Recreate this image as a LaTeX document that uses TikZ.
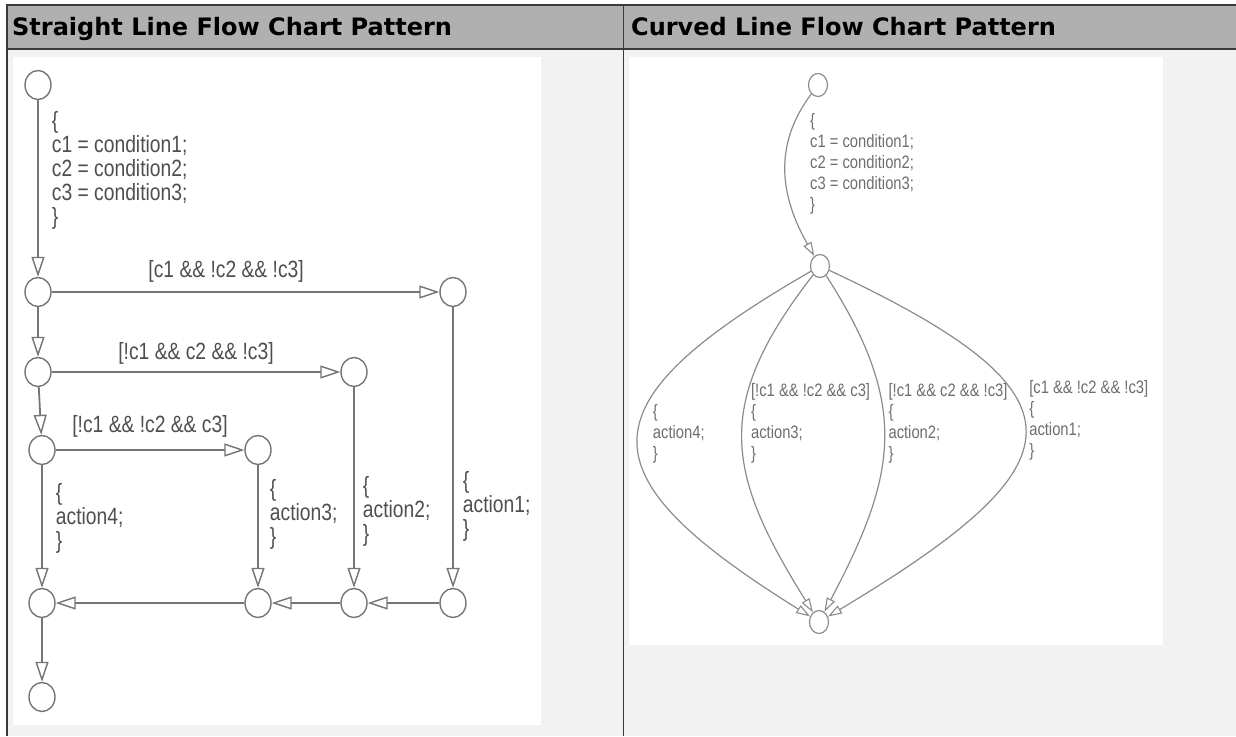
\documentclass[tikz,border=0pt]{standalone}
\usepackage{fontspec}
\usepackage{tikz}
\usetikzlibrary{positioning,arrows.meta,shapes.geometric}
\newfontfamily\headfont{DejaVu Sans}
\newfontfamily\chartfont[FakeStretch=0.82]{Liberation Sans}
\definecolor{headgray}{HTML}{B0B0B0}
\definecolor{bodygray}{HTML}{F2F2F2}
\definecolor{rulegray}{HTML}{3A3A3A}
\definecolor{wire}{HTML}{757575}
\definecolor{wirelight}{HTML}{8C8C8C}
\definecolor{codeink}{HTML}{4F4F4F}
\definecolor{codelight}{HTML}{6E6E6E}
\tikzset{
  rule/.style={draw=rulegray,line width=1.6pt},
  headtext/.style={font=\headfont\bfseries\fontsize{24}{28}\selectfont,inner sep=0pt},
  junction/.style={ellipse,draw=wire,line width=1.4pt,fill=white,inner sep=0pt,minimum width=26pt,minimum height=29pt},
  smalljunction/.style={ellipse,draw=wirelight,line width=1.2pt,fill=white,inner sep=0pt,minimum width=19pt,minimum height=23pt},
  flow/.style={draw=wire,line width=1.8pt,-{Triangle[open,length=20pt,width=13pt,line width=1.4pt]}},
  thinflow/.style={draw=wirelight,line width=1.2pt,-{Triangle[open,length=14pt,width=9pt,line width=1.1pt]}},
  code/.style={font=\chartfont\fontsize{23.5}{24}\selectfont,text=codeink,align=left,inner sep=0pt},
  smallcode/.style={font=\chartfont\fontsize{18}{21}\selectfont,text=codelight,align=left,inner sep=0pt}}

\begin{document}
\begin{tikzpicture}[x=1pt,y=-1pt]
  \useasboundingbox (0,0) rectangle (1236,736);
  % table frame
  \fill[white] (0,0) rectangle (1236,736);
  \fill[headgray] (7,5) rectangle (1236,49);
  \fill[bodygray] (7,49) rectangle (1236,736);
  \fill[white] (13,57) rectangle (541,725);
  \fill[white] (629,57) rectangle (1163,645);
  \draw[rule] (7,736) -- (7,5) -- (1236,5);
  \draw[rule] (7,49) -- (1236,49);
  \draw[rule] (623.5,5) -- (623.5,736);
  \node[headtext,anchor=base west] (hleft) at (12,35) {Straight Line Flow Chart Pattern};
  \node[headtext,anchor=base west] (hright) at (631,35) {Curved Line Flow Chart Pattern};

  % straight line pattern
  \node[junction] (s0) at (38,85) {};
  \node[junction] (a1) at (38,292) {};
  \node[junction] (b1) at (453,292) {};
  \node[junction] (a2) at (38,372) {};
  \node[junction] (b2) at (354,372) {};
  \node[junction] (a3) at (42,450) {};
  \node[junction] (b3) at (258,450) {};
  \node[junction] (d1) at (42,603) {};
  \node[junction] (d3) at (258,603) {};
  \node[junction] (d2) at (354,603) {};
  \node[junction] (d4) at (453,603) {};
  \node[junction] (e) at (42,697) {};
  \draw[flow] (s0) -- node[code,right=13pt,pos=0.4]{\{\\c1 = condition1;\\c2 = condition2;\\c3 = condition3;\\\}} (a1);
  \draw[flow] (a1) -- node[code,above=9pt,pos=0.45]{[c1 \&\& !c2 \&\& !c3]} (b1);
  \draw[flow] (a1) -- (a2);
  \draw[flow] (a2) -- node[code,above=7pt]{[!c1 \&\& c2 \&\& !c3]} (b2);
  \draw[flow] (a2) -- (a3);
  \draw[flow] (a3) -- node[code,above=12pt]{[!c1 \&\& !c2 \&\& c3]} (b3);
  \draw[flow] (a3) -- node[code,right=13pt,pos=0.43]{\{\\action4;\\\}} (d1);
  \draw[flow] (b3) -- node[code,right=11pt,pos=0.4]{\{\\action3;\\\}} (d3);
  \draw[flow] (b2) -- node[code,right=8pt,pos=0.62]{\{\\action2;\\\}} (d2);
  \draw[flow] (b1) -- node[code,right=9pt,pos=0.71]{\{\\action1;\\\}} (d4);
  \draw[flow] (d4) -- (d2);
  \draw[flow] (d2) -- (d3);
  \draw[flow] (d3) -- (d1);
  \draw[flow] (d1) -- (e);

  % curved line pattern
  \node[smalljunction] (r0) at (818,85) {};
  \node[smalljunction] (rm) at (820,266) {};
  \node[smalljunction] (rb) at (819,622) {};
  \draw[thinflow] (r0) .. controls +(-45,60) and +(-40,-70) .. (rm);
  \node[smallcode,anchor=west] (rinit) at (810,164) {\{\\c1 = condition1;\\c2 = condition2;\\c3 = condition3;\\\}};
  \draw[thinflow] (rm) .. controls +(-241,139) and +(-236,-147) .. node[smallcode,anchor=west,xshift=14pt,yshift=7pt]{\{\\action4;\\\}} (rb);
  \draw[thinflow] (rm) .. controls +(-108,139) and +(-93,-149) .. node[smallcode,anchor=west,xshift=8pt,yshift=17pt]{[!c1 \&\& !c2 \&\& c3]\\\{\\action3;\\\}} (rb);
  \draw[thinflow] (rm) .. controls +(90,140) and +(78,-148) .. node[smallcode,anchor=west,xshift=4pt,yshift=18pt]{[!c1 \&\& c2 \&\& !c3]\\\{\\action2;\\\}} (rb);
  \draw[thinflow] (rm) .. controls +(278,130) and +(263,-158) .. node[smallcode,anchor=west,xshift=4pt,yshift=13pt]{[c1 \&\& !c2 \&\& !c3]\\\{\\action1;\\\}} (rb);
\end{tikzpicture}
\end{document}
